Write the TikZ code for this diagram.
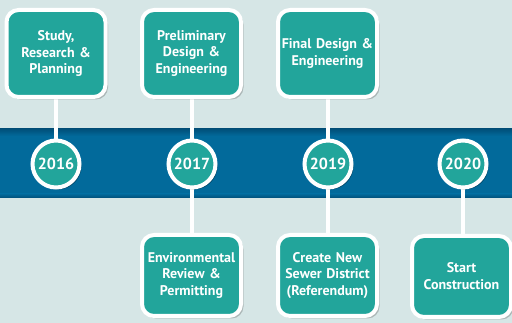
\documentclass[tikz,border=0pt]{standalone}
\usepackage{fontspec}
\setmainfont{PT Sans}[BoldFont={PT Sans Bold}]
\usetikzlibrary{shadows}
\definecolor{bgc}{HTML}{D6E6E6}
\definecolor{bandc}{HTML}{026A9B}
\definecolor{bandd}{HTML}{01507A}
\definecolor{tealc}{HTML}{22A59B}
\pgfdeclarelayer{back}
\pgfdeclarelayer{mid}
\pgfsetlayers{back,mid,main}
\begin{document}
\begin{tikzpicture}[x=1pt,y=-1pt,
  stage/.style={rounded corners=12pt, fill=tealc, draw=white, line width=4pt,
    minimum width=99pt, text width=97pt, align=center, inner sep=0pt,
    text=white, font=\bfseries\fontsize{14}{16.8}\selectfont,
    drop shadow={shadow xshift=2.5pt, shadow yshift=-2.5pt, opacity=0.3, fill=black!70}},
  topstage/.style={stage, minimum height=87pt},
  botstage/.style={stage, minimum height=81pt},
  year/.style={circle, fill=tealc, draw=white, line width=4pt, minimum size=47pt,
    inner sep=0pt, text=white, font=\bfseries\fontsize{16}{16}\selectfont,
    drop shadow={shadow xshift=2pt, shadow yshift=-2pt, opacity=0.35, fill=black}},
  link/.style={draw=white, line width=4pt},
  linkshadow/.style={draw=black!45, line width=4pt, opacity=0.5, xshift=3pt}
]
\useasboundingbox (0,0) rectangle (512,323);
\begin{pgfonlayer}{back}
\fill[bgc] (0,0) rectangle (512,323);
\fill[bandc] (0,129) rectangle (512,198);
\shade[top color=bandd, bottom color=bandc] (0,129) rectangle (512,136);
\shade[top color=bandc, bottom color=bandd] (0,194) rectangle (512,198);
\end{pgfonlayer}

\node[year] (y16) at (56,164) {2016};
\node[year] (y17) at (192,164) {2017};
\node[year] (y19) at (328,164) {2019};
\node[year] (y20) at (463,164) {2020};

\node[topstage] (s1) at (56,53.5) {Study,\\Research \&\\Planning};
\node[topstage] (s2) at (191.5,53.5) {Preliminary\\Design \&\\Engineering};
\node[topstage] (s3) at (327.5,53.5) {Final Design \&\\Engineering};
\node[botstage] (s4) at (191.5,275.5) {Environmental\\Review \&\\Permitting};
\node[botstage] (s5) at (327.5,275.5) {Create New\\Sewer District\\(Referendum)};
\node[botstage] (s6) at (461.5,276.5) {Start\\Construction};

\begin{pgfonlayer}{mid}
\foreach \a/\b in {s1/y16, s2/y17, s3/y19, y17/s4, y19/s5, y20/s6}{
  \draw[linkshadow] (\a.center) -- (\a.center |- \b.center);
  \draw[link] (\a.center) -- (\a.center |- \b.center);
}
\end{pgfonlayer}
\end{tikzpicture}
\end{document}
